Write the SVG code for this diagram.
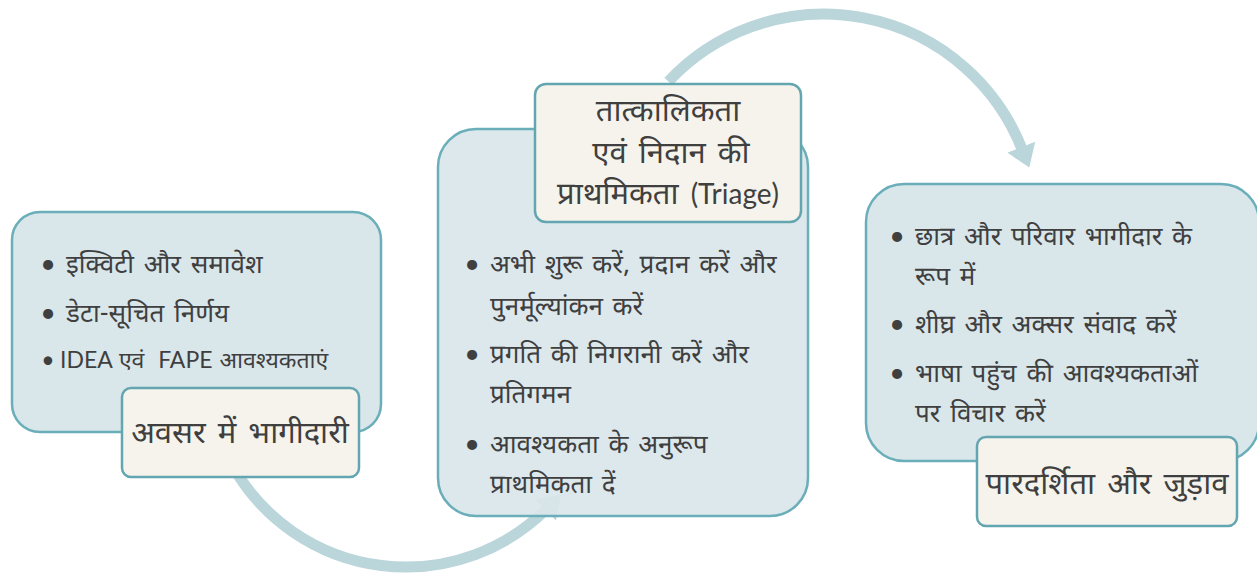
<svg xmlns="http://www.w3.org/2000/svg" width="1257" height="580" viewBox="0 0 1257 580">
<style>
.box{fill:#d9e6ea;stroke:#6aaeba;stroke-width:2.5}
.mid{fill:#d9e6ea;fill-opacity:0.92}
.lbl{fill:#f5f3ec;stroke:#63a6b1;stroke-width:2.5}
.arc{fill:none;stroke:#bad6db;stroke-width:11}
text{font-family:"Noto Sans Devanagari","Noto Sans",Lato,sans-serif;fill:#3f3f3f}
.b{font-size:26px;word-spacing:3px}
.d{font-size:27px;text-anchor:middle;font-family:Lato,sans-serif}
.s{font-size:23px;font-family:Lato,"Noto Sans Devanagari","Noto Sans",sans-serif;white-space:pre;word-spacing:1px}
.sd{font-size:23px;text-anchor:middle;font-family:Lato,sans-serif}
.t{font-size:31px;text-anchor:middle;word-spacing:4px}
.lat{font-family:Lato,sans-serif;font-size:28px}
</style>
<defs>
<marker id="ah" markerUnits="userSpaceOnUse" viewBox="0 0 22 30" refX="2" refY="15" markerWidth="22" markerHeight="30" orient="auto">
<path d="M0,0 L22,15 L0,30 Z" fill="#bad6db"/>
</marker>
</defs>
<g id="connectors">
<path class="arc" d="M235,470 A199,199 0 0 0 546.7,508.7" marker-end="url(#ah)"/>
<path class="arc" d="M668.4,81.5 A213,213 0 0 1 1022,149" marker-end="url(#ah)"/>
</g>
<g id="node-left">
<rect class="box" x="12" y="212" width="369" height="220" rx="28"/>
<text class="d" x="48" y="273">•</text>
<text class="b" x="66" y="273">इक्विटी और समावेश</text>
<text class="d" x="48" y="322">•</text>
<text class="b" x="66" y="322">डेटा-सूचित निर्णय</text>
<text class="sd" x="48" y="368">•</text>
<text class="s" x="60" y="368" xml:space="preserve">IDEA एवं  FAPE आवश्यकताएं</text>
</g>
<g id="label-left">
<rect class="lbl" x="122" y="388" width="237" height="89" rx="9"/>
<text class="t" x="240" y="443">अवसर में भागीदारी</text>
</g>
<g id="node-middle">
<rect class="box mid" x="438" y="129" width="370" height="387" rx="38"/>
<text class="d" x="472" y="273">•</text>
<text class="b" x="490" y="273">अभी शुरू करें, प्रदान करें और</text>
<text class="b" x="490" y="315">पुनर्मूल्यांकन करें</text>
<text class="d" x="472" y="363">•</text>
<text class="b" x="490" y="363">प्रगति की निगरानी करें और</text>
<text class="b" x="490" y="403">प्रतिगमन</text>
<text class="d" x="472" y="453">•</text>
<text class="b" x="490" y="453">आवश्यकता के अनुरूप</text>
<text class="b" x="490" y="493">प्राथमिकता दें</text>
</g>
<g id="label-middle">
<rect class="lbl" x="535" y="84" width="266" height="138" rx="11"/>
<text class="t" x="668" y="121">तात्कालिकता</text>
<text class="t" x="671" y="163">एवं निदान की</text>
<text class="t" x="668" y="204">प्राथमिकता <tspan class="lat">(Triage)</tspan></text>
</g>
<g id="node-right">
<rect class="box" x="866" y="184" width="393" height="277" rx="38"/>
<text class="d" x="897" y="245">•</text>
<text class="b" x="915" y="245">छात्र और परिवार भागीदार के</text>
<text class="b" x="915" y="285">रूप में</text>
<text class="d" x="897" y="333">•</text>
<text class="b" x="915" y="333">शीघ्र और अक्सर संवाद करें</text>
<text class="d" x="897" y="382">•</text>
<text class="b" x="915" y="382">भाषा पहुंच की आवश्यकताओं</text>
<text class="b" x="915" y="422">पर विचार करें</text>
</g>
<g id="label-right">
<rect class="lbl" x="977" y="437" width="260" height="89" rx="9"/>
<text class="t" x="1107" y="494">पारदर्शिता और जुड़ाव</text>
</g>
</svg>
